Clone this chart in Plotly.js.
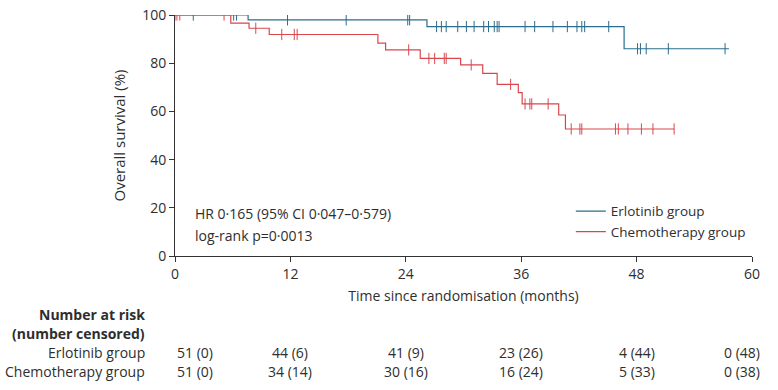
<!DOCTYPE html>
<html>
<head>
<meta charset="utf-8">
<script src="https://cdn.plot.ly/plotly-3.0.1.min.js"></script>
<style>html,body{margin:0;padding:0;background:#fff;}#chart{width:778px;height:390px;}</style>
</head>
<body>
<div id="chart"></div>
<script>
// ---- Data ----
const erlotinibTime = [0, 7.6, 26.2, 46.7, 57.6];
const erlotinibSurv = [100, 98.0, 95.2, 86.0, 86.0];
const erlotinibCensor = [1.9, 6.1, 6.4, 11.7, 17.8, 24.2, 24.4, 27.2, 27.7, 28.2, 29.4, 30.3, 31.1, 32.1, 32.6, 33.2, 33.5, 33.7, 36.4, 37.4, 39.3, 40.8, 41.8, 42.3, 42.6, 45.1, 48.1, 48.4, 49.0, 51.3, 57.2];

const chemoTime = [0, 5.8, 7.7, 9.8, 21.1, 21.9, 25.5, 29.7, 32.0, 33.5, 35.7, 36.1, 39.9, 40.6, 51.9];
const chemoSurv = [100, 96.6, 94.5, 91.9, 88.3, 85.5, 82.0, 79.3, 75.8, 71.2, 67.8, 63.1, 58.5, 52.7, 52.7];
const chemoCensor = [0, 0.2, 0.5, 5.1, 8.4, 11.1, 12.4, 12.7, 24.3, 26.4, 27.0, 28.0, 28.2, 30.8, 34.9, 36.4, 36.9, 37.1, 38.8, 41.2, 42.1, 42.3, 45.8, 46.1, 47.1, 48.5, 49.7, 51.9];

const groupNames = ["Erlotinib group", "Chemotherapy group"];
const riskTimes = [0, 12, 24, 36, 48, 60];
const erlotinibRisk = ["51 (0)", "44 (6)", "41 (9)", "23 (26)", "4 (44)", "0 (48)"];
const chemoRisk = ["51 (0)", "34 (14)", "30 (16)", "16 (24)", "5 (33)", "0 (38)"];
const xTicks = [0, 12, 24, 36, 48, 60];
const yTicks = [0, 20, 40, 60, 80, 100];

// ---- Styling ----
const blue = "#2b6d8d";
const red = "#d9474d";
const txt = "#2e2e2e";
const FONT = "Open Sans, Noto Sans, sans-serif";

function stepValue(times, surv, t) {
  let v = surv[0];
  for (let i = 0; i < times.length; i++) { if (times[i] <= t) v = surv[i]; }
  return v;
}

const traces = [
  {x: erlotinibTime, y: erlotinibSurv, mode: "lines", line: {shape: "hv", color: blue, width: 1.2}, name: groupNames[0], showlegend: true},
  {x: chemoTime, y: chemoSurv, mode: "lines", line: {shape: "hv", color: red, width: 1.2}, name: groupNames[1], showlegend: true},
  {x: chemoCensor, y: chemoCensor.map(t => stepValue(chemoTime, chemoSurv, t)), mode: "markers",
   marker: {symbol: "line-ns", size: 8, line: {color: red, width: 1}}, showlegend: false, hoverinfo: "skip"},
  {x: erlotinibCensor, y: erlotinibCensor.map(t => stepValue(erlotinibTime, erlotinibSurv, t)), mode: "markers",
   marker: {symbol: "line-ns", size: 8, line: {color: blue, width: 1}}, showlegend: false, hoverinfo: "skip"}
];

const annotations = [
  {xref: "x", yref: "paper", x: 1.9, y: 0.178, xanchor: "left", yanchor: "middle", text: "HR 0·165 (95% CI 0·047–0·579)", showarrow: false, font: {size: 14, color: txt}},
  {xref: "x", yref: "paper", x: 1.9, y: 0.087, xanchor: "left", yanchor: "middle", text: "log-rank p=0·0013", showarrow: false, font: {size: 14, color: txt}},
  {xref: "paper", yref: "paper", x: -0.048, y: -0.241, xanchor: "right", yanchor: "middle", text: "<b>Number at risk</b>", showarrow: false, font: {size: 14, color: txt}},
  {xref: "paper", yref: "paper", x: -0.048, y: -0.320, xanchor: "right", yanchor: "middle", text: "<b>(number censored)</b>", showarrow: false, font: {size: 14, color: txt}},
  {xref: "paper", yref: "paper", x: -0.048, y: -0.402, xanchor: "right", yanchor: "middle", text: groupNames[0], showarrow: false, font: {size: 14, color: txt}},
  {xref: "paper", yref: "paper", x: -0.048, y: -0.481, xanchor: "right", yanchor: "middle", text: groupNames[1], showarrow: false, font: {size: 14, color: txt}}
];
riskTimes.forEach((t, i) => {
  const anchor = i === 0 ? "left" : "center";
  const xpos = i === riskTimes.length - 1 ? t - 1 : t;
  annotations.push({xref: "x", yref: "paper", x: xpos, y: -0.402, xanchor: anchor, yanchor: "middle", text: erlotinibRisk[i], showarrow: false, font: {size: 14, color: txt}});
  annotations.push({xref: "x", yref: "paper", x: xpos, y: -0.481, xanchor: anchor, yanchor: "middle", text: chemoRisk[i], showarrow: false, font: {size: 14, color: txt}});
});

const layout = {
  width: 778, height: 390,
  margin: {l: 175, r: 26, t: 15, b: 134},
  paper_bgcolor: "#fff", plot_bgcolor: "#fff",
  font: {family: FONT, size: 14, color: txt},
  showlegend: true,
  legend: {x: 0.686, y: 0.25, xanchor: "left", yanchor: "top", bgcolor: "rgba(0,0,0,0)", itemwidth: 30, tracegroupgap: 0, font: {size: 13.5, color: txt}},
  xaxis: {range: [0, 60], tickvals: xTicks, ticks: "outside", ticklen: 5, tickcolor: "#333", showline: true, linecolor: "#333", linewidth: 1, showgrid: false, zeroline: false, fixedrange: true,
          tickfont: {size: 14, color: txt},
          title: {text: "Time since randomisation (months)", standoff: 9, font: {size: 14, color: txt}}},
  yaxis: {range: [0, 100], tickvals: yTicks, ticks: "outside", ticklen: 5, tickcolor: "#333", showline: true, linecolor: "#333", linewidth: 1, showgrid: false, zeroline: false, fixedrange: true,
          tickfont: {size: 14, color: txt},
          title: {text: "Overall survival (%)", standoff: 12, font: {size: 15, color: txt}}},
  annotations: annotations
};

Plotly.newPlot("chart", traces, layout, {displayModeBar: false, staticPlot: true});
</script>
</body>
</html>
